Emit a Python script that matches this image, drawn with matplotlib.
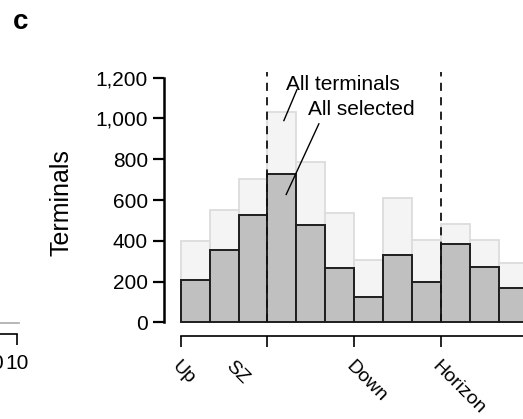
import numpy as np
import matplotlib
matplotlib.use('Agg')
import matplotlib.pyplot as plt
from matplotlib.ticker import FuncFormatter

plt.rcParams['font.family'] = ['Liberation Sans', 'DejaVu Sans']

# bins along the path (one unit per bin)
all_terminals = [400, 550, 704, 1033, 785, 534, 307, 611, 406, 480, 406, 289]
all_selected = [209, 357, 527, 728, 477, 268, 126, 330, 197, 383, 273, 171]

tick_pos = [0, 3, 6, 9]
tick_labels = ['Up', 'SZ', 'Down', 'Horizon']
label_pos = [0, 1.85, 6, 9]
dashed_pos = [3, 9]

yticks = [0, 200, 400, 600, 800, 1000, 1200]

fig = plt.figure(figsize=(5.23, 4.19), dpi=100)

# main panel
ax = fig.add_axes([0.3136, 0.1988, 0.6998, 0.6341])
x = np.arange(len(all_terminals))
ax.bar(x, all_terminals, width=1, align='edge', color='#f4f4f4',
       edgecolor='#dcdcdc', linewidth=1.3, zorder=1)
ax.bar(x, all_selected, width=1, align='edge', color='#c0c0c0',
       edgecolor='#1e1e1e', linewidth=1.4, zorder=2)
for xp in dashed_pos:
    ax.plot([xp, xp], [0, 1225], color='#111111', lw=1.3,
            dashes=(4.5, 3.5), zorder=3)

ax.set_xlim(-0.578, 12.087)
ax.set_ylim(-64.7, 1236.7)

ax.spines['top'].set_visible(False)
ax.spines['right'].set_visible(False)
ax.spines['left'].set_bounds(0, 1200)
ax.spines['left'].set_linewidth(1.8)
ax.spines['bottom'].set_bounds(0, 12.087)
ax.spines['bottom'].set_linewidth(1.2)

ax.set_yticks(yticks)
ax.yaxis.set_major_formatter(FuncFormatter(lambda v, p: '{:,}'.format(int(v))))
ax.tick_params(axis='y', direction='out', length=8, width=1.6, pad=3.5,
               labelsize=15)

ax.set_xticks(tick_pos)
ax.set_xticks(tick_pos[1:], minor=True)
ax.tick_params(axis='x', which='major', direction='out', length=8, width=1.2,
               labelbottom=False)
ax.tick_params(axis='x', which='minor', direction='in', length=4.6, width=1.2,
               labelbottom=False)
for lp, lab in zip(label_pos, tick_labels):
    ax.text(lp, -0.083, lab, transform=ax.get_xaxis_transform(),
            rotation=-45, rotation_mode='anchor', ha='left', va='top',
            fontsize=14)

ax.set_ylabel('Terminals', fontsize=18, labelpad=16)

# labels with leader lines
ax.text(3.65, 1168, 'All terminals', fontsize=15, ha='left', va='center')
ax.plot([4.02, 3.57], [1140, 989], color='black', lw=1, zorder=4)
ax.text(4.41, 1041, 'All selected', fontsize=15, ha='left', va='center')
ax.plot([4.78, 3.65], [973, 627], color='black', lw=1, zorder=4)

# edge of the neighbouring panel on the left
ax0 = fig.add_axes([-0.0822, 0.2022, 0.1147, 0.5])
ax0.set_xlim(-20, 10)
ax0.set_ylim(0, 1)
ax0.plot([-20, 11], [0.0554, 0.0554], color='#aaaaaa', lw=1.2, clip_on=False)
for s in ['top', 'right', 'left']:
    ax0.spines[s].set_visible(False)
ax0.spines['bottom'].set_linewidth(1.2)
ax0.set_yticks([])
ax0.set_xticks([0, 10])
ax0.set_xticklabels(['0', '10'])
ax0.tick_params(axis='x', direction='out', length=8, width=1.2, pad=6,
                labelsize=15)
ax0.patch.set_visible(False)

fig.text(0.025, 0.931, 'c', fontsize=20, fontweight='bold', va='baseline')

fig.savefig('out.png', dpi=100)
